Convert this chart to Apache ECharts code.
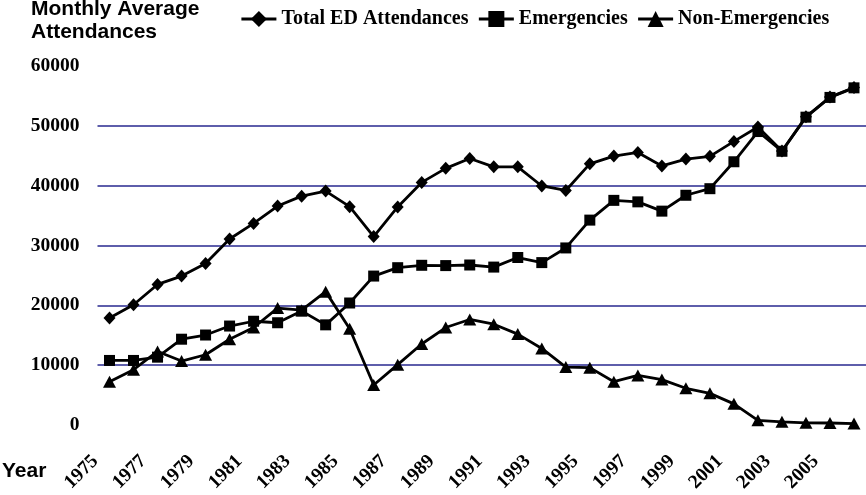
<!DOCTYPE html>
<html>
<head>
<meta charset="utf-8">
<script src="https://cdn.jsdelivr.net/npm/echarts@6/dist/echarts.min.js"></script>
<style>html,body{margin:0;padding:0;background:#fff}#c{width:866px;height:495px}</style>
</head>
<body>
<div id="c"></div>
<script>
const years = ['1975','1976','1977','1978','1979','1980','1981','1982','1983','1984','1985','1986','1987','1988','1989','1990','1991','1992','1993','1994','1995','1996','1997','1998','1999','2000','2001','2002','2003','2004','2005','2006'];
const totalED = [17900,20100,23500,24900,27000,31100,33700,36600,38250,39100,36500,31500,36450,40550,42900,44550,43150,43150,39950,39200,43650,44950,45550,43300,44450,44900,47400,49800,45800,51500,54800,56400];
const emergencies = [10800,10800,11350,14350,15050,16550,17350,17100,19050,16750,20400,24900,26300,26700,26650,26750,26400,28000,27150,29600,34250,37550,37300,35750,38400,39500,44000,49050,45750,51450,54750,56350];
const nonEmergencies = [7250,9250,12300,10700,11750,14350,16300,19550,19200,22300,16100,6700,10100,13550,16300,17650,16850,15200,12800,9700,9600,7250,8300,7600,6150,5300,3550,800,550,380,350,250];
const gridValues = [10000,20000,30000,40000,50000];
const seriesNames = ['Total ED Attendances','Emergencies','Non-Emergencies'];

const serif = '"Liberation Serif","Times New Roman",serif';
const sans = '"Liberation Sans",Arial,sans-serif';
const chart = echarts.init(document.getElementById('c'), null, {renderer:'canvas'});
const lineStyle = {color:'#000', width:2.8};
function mk(name, data, symbol, size, extra){
  return Object.assign({
    name, type:'line', data, symbol, symbolSize:size,
    lineStyle, itemStyle:{color:'#000'}, animation:false, z:3
  }, extra||{});
}
chart.setOption({
  animation:false,
  title:{text:'Monthly Average\nAttendances', left:31, top:-2, padding:0,
    textStyle:{fontFamily:sans, fontWeight:'bold', fontSize:21, lineHeight:23, color:'#000'}},
  legend:{left:240, top:9, padding:0, itemWidth:35, itemHeight:20, itemGap:9,
    data:seriesNames,
    lineStyle:{width:2.8, color:'#000'},
    itemStyle:{color:'#000'},
    textStyle:{fontFamily:serif, fontWeight:'bold', fontSize:20, color:'#000'}},
  graphic:[{type:'text', left:2, top:461, style:{text:'Year', fontFamily:sans, fontWeight:'bold', fontSize:21, fill:'#000'}}],
  grid:{left:97.5, right:0, top:66, bottom:64.5, containLabel:false},
  xAxis:{type:'category', data:years, boundaryGap:true,
    axisLine:{show:false}, axisTick:{show:false}, splitLine:{show:false},
    axisLabel:{interval:1, rotate:45, margin:19, padding:[0,20,0,0],
      fontFamily:serif, fontWeight:'bold', fontSize:19.5, color:'#000'}},
  yAxis:{type:'value', min:0, max:60000, interval:10000,
    axisLine:{show:false}, axisTick:{show:false}, splitLine:{show:false},
    axisLabel:{margin:18, formatter:v=>String(v), fontFamily:serif, fontWeight:'bold', fontSize:19.5, color:'#000'}},
  series:[
    mk(seriesNames[0], totalED, 'diamond', [12,13], {
      markLine:{silent:true, symbol:'none', label:{show:false}, z:1,
        lineStyle:{color:'#28288f', width:1.6, type:'solid'},
        data:gridValues.map(v=>({yAxis:v}))}
    }),
    mk(seriesNames[1], emergencies, 'rect', 11),
    mk(seriesNames[2], nonEmergencies, 'triangle', [13,12])
  ]
});
</script>
</body>
</html>
